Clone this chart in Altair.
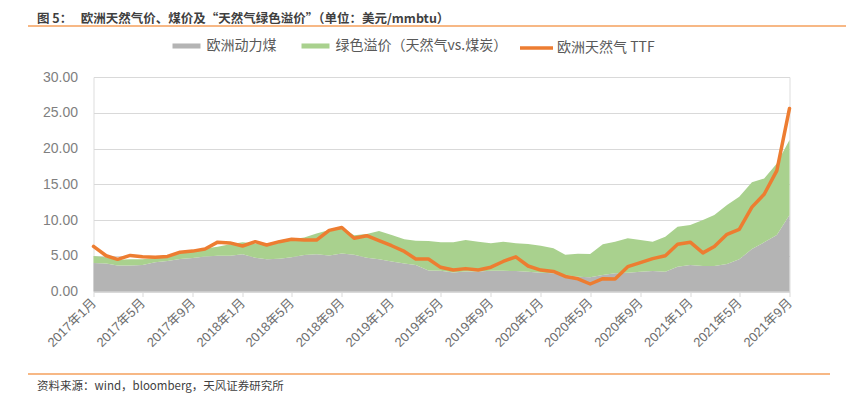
import altair as alt
import pandas as pd

# ---------------- data ----------------
months = [f"{y}-{m:02d}-01" for y in range(2017, 2022) for m in range(1, 13)][:57]

coal = [4.0, 3.9, 3.65, 3.65, 3.7, 4.1, 4.27, 4.55, 4.7, 4.9, 5.0, 5.0,
        5.2, 4.73, 4.5, 4.57, 4.8, 5.1, 5.2, 5.05, 5.3, 5.15, 4.72, 4.5,
        4.2, 3.9, 3.7, 2.93, 2.9, 2.66, 2.8, 2.8, 2.9, 2.9, 2.85, 2.75,
        2.63, 2.54, 2.3, 2.05, 1.98, 2.3, 2.54, 2.63, 2.77, 2.85, 2.77, 3.47,
        3.7, 3.57, 3.57, 3.85, 4.5, 5.94, 6.88, 7.9, 10.7]

premium = [0.96, 0.90, 0.80, 0.85, 0.80, 0.60, 0.63, 0.75, 1.10, 1.10, 1.27, 1.60,
           1.70, 1.97, 2.20, 2.43, 2.50, 2.45, 2.90, 3.55, 3.60, 2.70, 3.33, 3.96,
           3.70, 3.40, 3.40, 4.13, 3.98, 4.22, 4.40, 4.17, 3.84, 4.07, 3.89, 3.89,
           3.77, 3.50, 2.85, 3.23, 3.26, 4.30, 4.43, 4.81, 4.43, 4.12, 4.90, 5.60,
           5.60, 6.43, 7.13, 8.25, 8.76, 9.33, 8.92, 10.00, 10.50]

ttf = [6.3, 5.0, 4.5, 5.05, 4.85, 4.8, 4.9, 5.5, 5.65, 5.95, 6.9, 6.8,
       6.36, 6.97, 6.5, 6.97, 7.3, 7.2, 7.2, 8.55, 8.95, 7.45, 7.8, 7.1,
       6.4, 5.6, 4.55, 4.55, 3.38, 3.0, 3.2, 3.0, 3.4, 4.2, 4.85, 3.57,
       3.0, 2.8, 2.1, 1.78, 1.05, 1.8, 1.75, 3.47, 4.03, 4.6, 5.0, 6.6,
       6.9, 5.4, 6.3, 8.0, 8.7, 11.8, 13.6, 16.9, 25.6]

S_COAL = "欧洲动力煤"
S_PREM = "绿色溢价（天然气vs.煤炭）"
S_TTF = "欧洲天然气 TTF"

tick_months = [(2017, 1), (2017, 5), (2017, 9), (2018, 1), (2018, 5), (2018, 9),
               (2019, 1), (2019, 5), (2019, 9), (2020, 1), (2020, 5), (2020, 9),
               (2021, 1), (2021, 5), (2021, 9)]
y_ticks = [0, 5, 10, 15, 20, 25, 30]

TITLE = "图 5：\u00a0\u00a0\u00a0欧洲天然气价、煤价及“天然气绿色溢价”（单位：美元/mmbtu）"
SOURCE = "资料来源：wind，bloomberg，天风证券研究所"

# ---------------- tables ----------------
area_df = pd.DataFrame({
    "date": months * 2,
    "series": [S_COAL] * len(months) + [S_PREM] * len(months),
    "value": coal + premium,
    "ord": [0] * len(months) + [1] * len(months),
})
ttf_df = pd.DataFrame({"date": months, "series": S_TTF, "value": ttf})

CJK = "Noto Sans CJK SC"
NUM = "Liberation Sans, Noto Sans CJK SC"

x_scale = alt.Scale(type="utc",
                    domain=[alt.DateTime(year=2017, month=1, date=1, utc=True),
                            alt.DateTime(year=2021, month=9, date=1, utc=True)],
                    nice=False)
x_axis = alt.Axis(
    title=None,
    values=[alt.DateTime(year=y, month=m, date=1, utc=True) for y, m in tick_months],
    labelExpr="utcFormat(datum.value, '%Y年%-m月')",
    labelAngle=-45, labelAlign="right", labelBaseline="middle",
    labelFont=NUM, labelFontSize=13, labelColor="#6e6e6e", labelPadding=4,
    domainColor="#d9d9d9", domainWidth=1,
    tickColor="#d9d9d9", tickSize=5, tickWidth=1,
    grid=False, labelOverlap=False,
)

y_scale = alt.Scale(domain=[0, 30], nice=False)
y_axis = alt.Axis(
    title=None, values=y_ticks, format=".2f",
    labelFont=NUM, labelFontSize=14, labelColor="#7f7f7f", labelPadding=16,
    labelOverlap=False,
    domain=False, ticks=False,
    grid=True, gridColor="#d9d9d9", gridWidth=1,
)

area = alt.Chart(area_df).mark_area(opacity=1, interpolate="linear").encode(
    x=alt.X("date:T", scale=x_scale, axis=x_axis),
    y=alt.Y("value:Q", stack="zero", scale=y_scale, axis=y_axis),
    color=alt.Color(
        "series:N",
        scale=alt.Scale(domain=[S_COAL, S_PREM], range=["#b4b4b4", "#a9d18e"]),
        sort=[S_COAL, S_PREM],
        legend=alt.Legend(
            title=None, orient="none", legendX=86, legendY=-38, direction="horizontal",
            symbolType="M-2,-0.36L2,-0.36L2,0.36L-2,0.36Z", symbolSize=196,
            symbolStrokeWidth=0, symbolOpacity=1,
            labelFont=CJK, labelFontSize=14, labelColor="#595959", labelLimit=400,
            labelOffset=13, columnPadding=25, padding=0,
        ),
    ),
    order=alt.Order("ord:Q"),
)

line = alt.Chart(ttf_df).mark_line(strokeWidth=3.5, strokeJoin="round", strokeCap="round").encode(
    x=alt.X("date:T", scale=x_scale, axis=x_axis),
    y=alt.Y("value:Q", scale=y_scale, axis=y_axis),
    stroke=alt.Stroke(
        "series:N",
        scale=alt.Scale(domain=[S_TTF], range=["#ed7d31"]),
        legend=alt.Legend(
            title=None, orient="none", legendX=424.5, legendY=-47.5, direction="horizontal",
            symbolType="stroke", symbolSize=1089, symbolStrokeWidth=3.5,
            labelFont=CJK, labelFontSize=14, labelColor="#595959", labelLimit=400,
            labelOffset=2, padding=0,
        ),
    ),
)

one = pd.DataFrame({"t": [TITLE]})
title_txt = alt.Chart(one).mark_text(
    align="left", baseline="middle", fontSize=12.5, fontWeight="bold",
    color="#3f3f3f", font=CJK,
).encode(text="t:N", x=alt.value(-56.5), y=alt.value(-58.5))

src = pd.DataFrame({"t": [SOURCE]})
source_txt = alt.Chart(src).mark_text(
    align="left", baseline="middle", fontSize=11.5, color="#404040", font=CJK,
).encode(text="t:N", x=alt.value(-56.5), y=alt.value(310))

r = pd.DataFrame({"a": [0]})
rule_top = alt.Chart(r).mark_rule(color="#f4a15d", strokeWidth=1.5).encode(
    x=alt.value(-65.5), x2=alt.value(753.5), y=alt.value(-51))
rule_bot = alt.Chart(r).mark_rule(color="#f4a15d", strokeWidth=1.5).encode(
    x=alt.value(-65.5), x2=alt.value(736.5), y=alt.value(297))

chart = alt.layer(area, line, title_txt, source_txt, rule_top, rule_bot).resolve_scale(
    color="independent", stroke="independent"
).properties(
    width=696, height=214.5,
    autosize=alt.AutoSizeParams(type="none"),
    padding={"left": 85.5, "top": 69, "right": 56.5, "bottom": 106.5},
).configure_view(stroke=None).configure(background="white")

chart.save("out.html", embed_options={"renderer": "svg", "actions": False})
